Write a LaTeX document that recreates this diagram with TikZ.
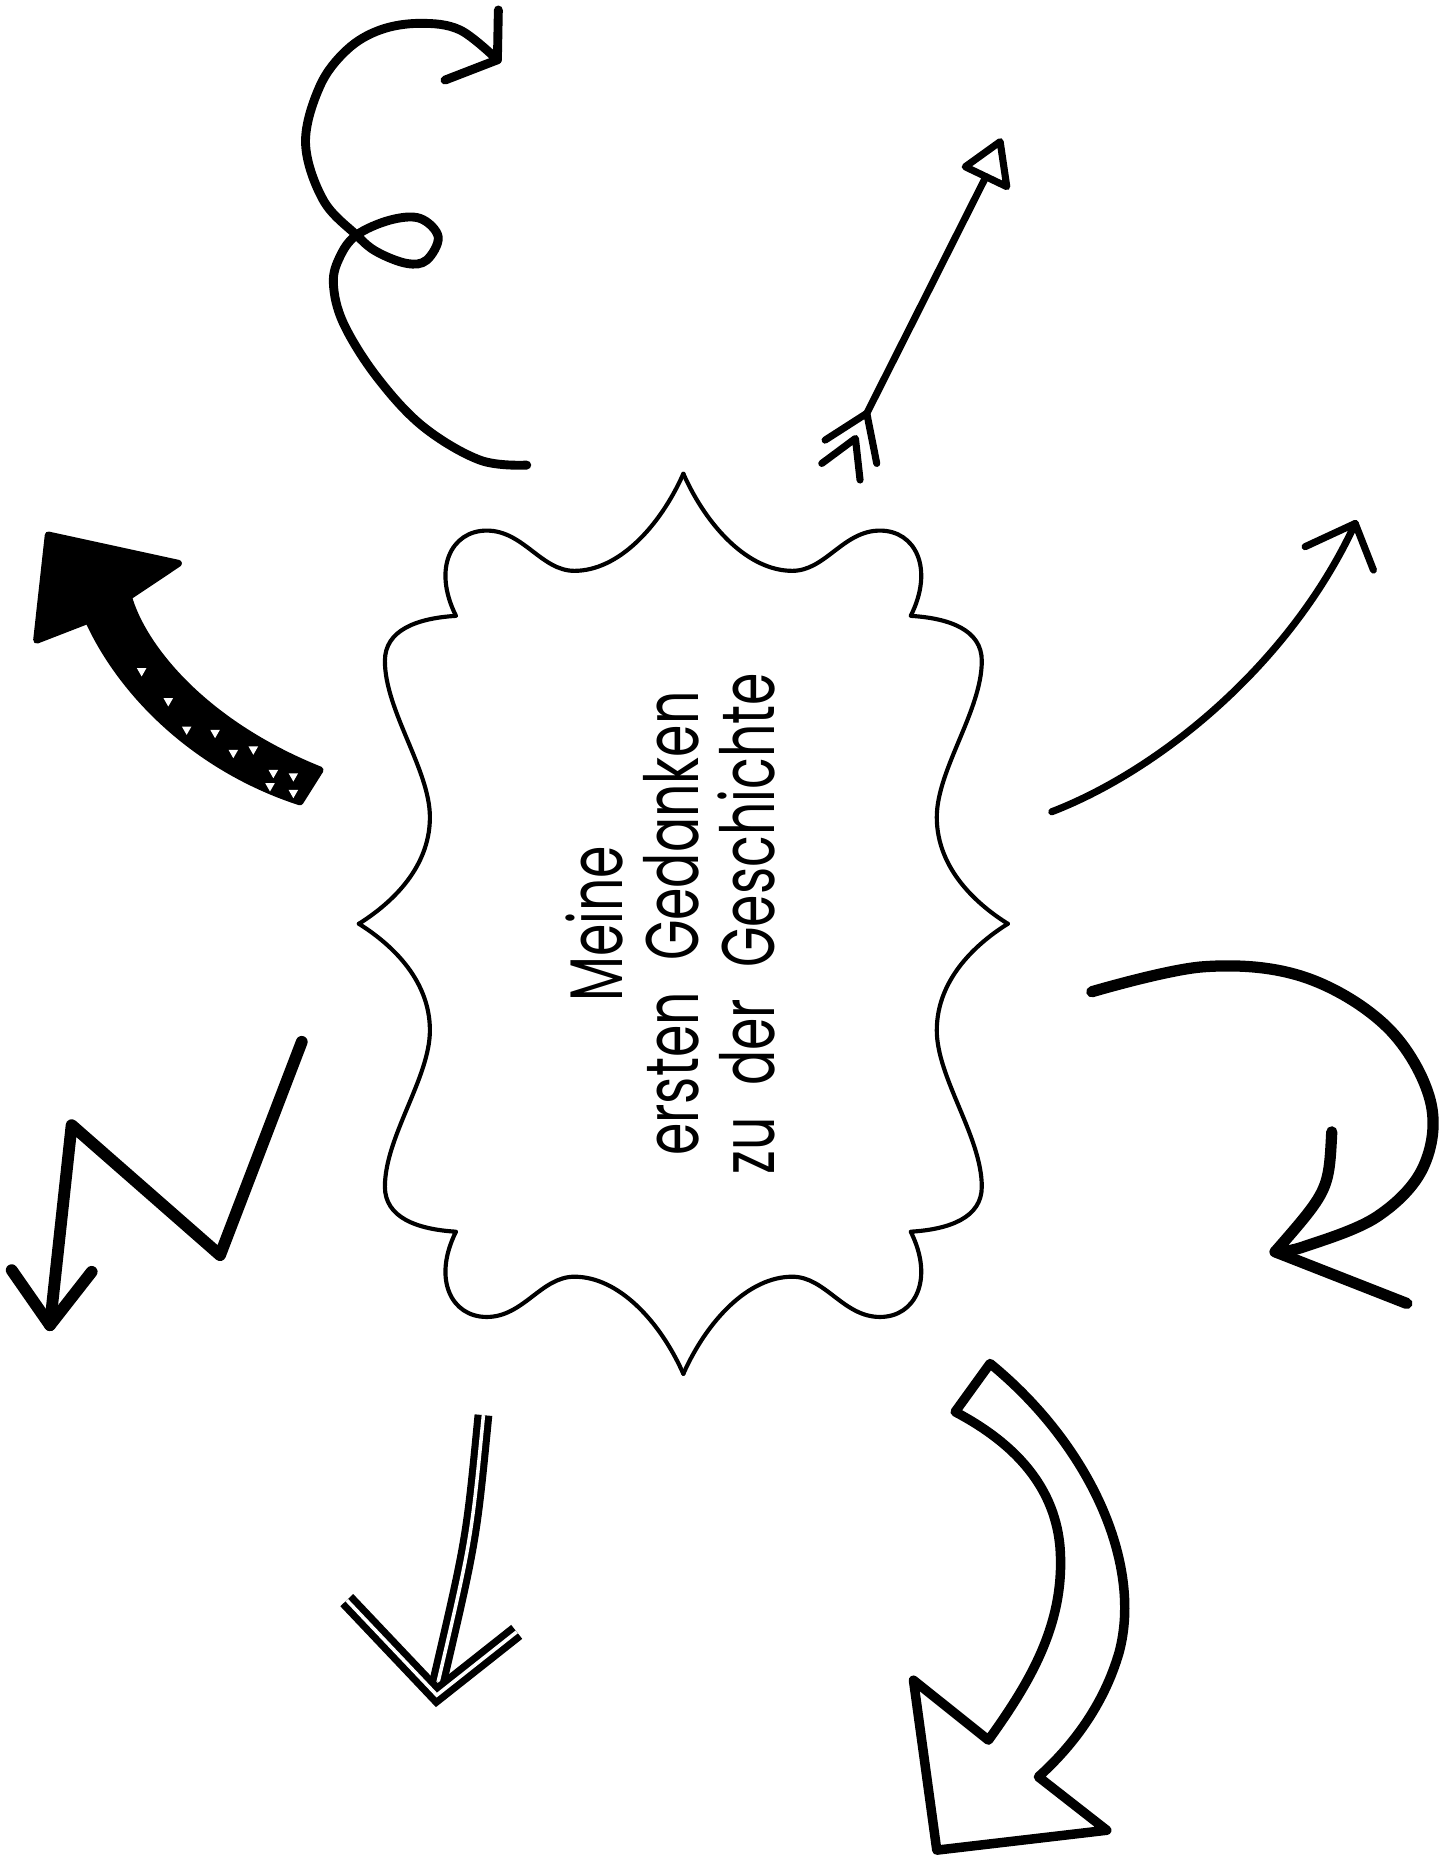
\documentclass[tikz,border=0pt]{standalone}
\usepackage{fontspec}
\newfontfamily\handfont[FakeStretch=0.7]{Poppins}
\newcommand{\thoughtfont}{\handfont\fontsize{17.9pt}{18.3pt}\selectfont\spaceskip 0.42em\relax}

\begin{document}
\begin{tikzpicture}[x=0.1mm, y=-0.1mm,
    pen/.style={draw=black, line width=#1, line cap=round, line join=round},
    twin/.style={double, draw=black, line width=0.6mm, double distance=0.3mm, line cap=butt}]
        \useasboundingbox (0,0) rectangle (1227,1568);
        % Frame, drawn as four mirrored quarters
        \begin{scope}[shift={(577,780)}]
          \foreach \sx/\sy in {1/1,-1/1,1/-1,-1/-1}
            \draw[pen=0.35mm, xscale=\sx, yscale=\sy] (0,-380)
              .. controls (-20,-335) and (-55,-298) .. (-92,-298)
              .. controls (-120,-298) and (-135,-332) .. (-166,-332)
              .. controls (-196,-332) and (-212,-300) .. (-192,-260)
              .. controls (-225,-258) and (-252,-248) .. (-252,-222)
              .. controls (-252,-180) and (-214,-130) .. (-214,-90)
              .. controls (-214,-45) and (-250,-15) .. (-274,0);
        \end{scope}
        \node[rotate=90, align=center, font=\thoughtfont] (thoughts) at (566,780) {Meine\\ersten Gedanken\\zu der Geschichte};
        % Curl arrow (top)
        \draw[pen=0.75mm] plot[smooth, tension=0.6] coordinates {(444.8,392.7) (405.3,388.5) (357,360) (318,318) (290,273) (281.5,239.4) (287,216.8) (301,198.5) (329.4,185.8) (354.7,184.4) (370,200) (360.3,219.6) (343.4,222.4) (318,212.5) (301,198.5) (273,169) (258,121) (270,73) (292.8,42.2) (320.9,25.3) (354.7,19.7) (388.4,25.3) (420,50.5)};
        \draw[pen=0.75mm] (420.8,8.4) -- (420,50.5) -- (375.8,67.6);
        % Feathered arrow
        \draw[pen=0.6mm] (844.5,119.6) -- (815,140.8) -- (850.1,157.6) -- cycle;
        \draw[pen=0.6mm] (832.5,149.2) -- (731.9,349);
        \draw[pen=0.6mm] (696.7,371.6) -- (731.9,349) -- (740.3,391.3);
        \draw[pen=0.6mm] (693.9,391.3) -- (722.3,370.2) -- (726.2,405.3);
        % Thick black arrow
        \filldraw[pen=0.6mm, fill=black] (40.8,451.8) -- (150.6,475.7) -- (108.4,503.9)
          .. controls (120,545) and (170,610) .. (270.2,650.2) -- (253.3,677)
          .. controls (170,650) and (105,590) .. (74.6,523.6) -- (31,540.5) -- cycle;
        \foreach \px/\py in {119.6/567.2, 142.1/592.5, 157.6/616.5, 181.6/619.3, 197/636.2, 213.9/633.3, 230.8/653.1, 247.7/655.9, 228/664.3, 247.7/670}
          \fill[white] (\px,\py) ++(-4,-3) -- ++(8,0) -- ++(-4,7) -- cycle;
        % Zigzag arrow
        \draw[pen=1mm] (254.8,879.7) -- (185.8,1059.8) -- (60.5,950) -- (42.2,1118.9);
        \draw[pen=1mm] (9.9,1072.5) -- (42.2,1118.9) -- (77.4,1073.9);
        % Rising arrow (right)
        \draw[pen=0.6mm] (888.1,685.4) .. controls (980,650) and (1090,560) .. (1144.3,442);
        \draw[pen=0.6mm] (1102,461.6) -- (1144.3,442) -- (1159.7,481.3);
        % Hook arrow (right)
        \draw[pen=0.95mm] plot[smooth, tension=0.6] coordinates {(921.9,837.4) (1016.2,816.3) (1100.6,824.8) (1171,867) (1207.6,928.9) (1201.9,985.2) (1162.6,1027.4) (1100.6,1052.8) (1076.7,1057)};
        \draw[pen=0.95mm] (1124.5,955.7) .. controls (1122,1005) .. (1076.7,1057) -- (1187.9,1100.6);
        % Double-line arrow (bottom)
        \draw[twin] (408.2,1194.9) .. controls (398,1300) .. (370,1420);
        \draw[twin, line join=miter] (292.8,1351.1) -- (368.8,1431.3) -- (436.3,1377.9);
        % Hollow block arrow (bottom right)
        \draw[pen=0.8mm] (836,1151.3) .. controls (920,1220) and (965,1320) .. (945,1395)
          .. controls (932,1440) and (905,1475) .. (876.8,1500.3) -- (934.5,1545.4) -- (791,1562.2)
          -- (771.3,1418.7) -- (834.6,1469.3)
          .. controls (870,1420) and (900,1370) .. (895,1306)
          .. controls (890,1250) and (850,1215) .. (806.5,1192.1) -- cycle;
\end{tikzpicture}
\end{document}
